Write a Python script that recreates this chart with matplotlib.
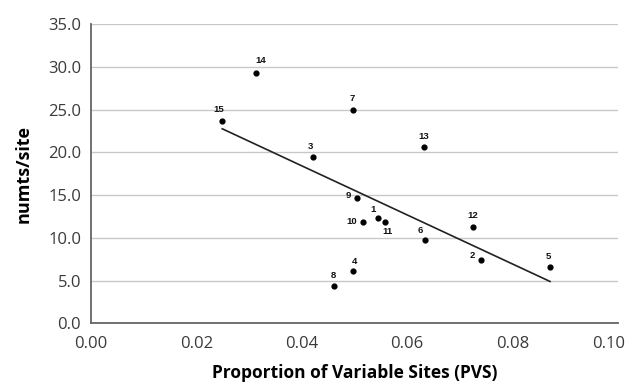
import numpy as np
import matplotlib
matplotlib.use("Agg")
import matplotlib.pyplot as plt
from matplotlib.transforms import ScaledTranslation

# data
ids = ["1", "2", "3", "4", "5", "6", "7", "8", "9", "10", "11", "12", "13", "14", "15"]
pvs = [0.0544, 0.0740, 0.0421, 0.0497, 0.0871, 0.0633, 0.0498, 0.0462, 0.0505,
       0.0516, 0.0558, 0.0725, 0.0631, 0.0314, 0.0249]
numts = [12.3, 7.4, 19.4, 6.1, 6.6, 9.7, 24.9, 4.4, 14.7, 11.9, 11.8, 11.3, 20.6, 29.3, 23.7]
x_ticks = [0.00, 0.02, 0.04, 0.06, 0.08, 0.10]
y_ticks = [0.0, 5.0, 10.0, 15.0, 20.0, 25.0, 30.0, 35.0]

# label offsets in pixels (style)
offsets = {"1": (-5, 9), "2": (-9, 5), "3": (-2, 11), "4": (2, 10), "5": (-2, 10),
           "6": (-4, 10), "7": (-1, 12), "8": (-1, 10), "9": (-9, 2), "10": (-11, 0),
           "11": (2, -9), "12": (0, 11), "13": (0, 11), "14": (4, 12), "15": (-3, 11)}

fig = plt.figure(figsize=(6.3, 3.86), dpi=100)
ax = fig.add_axes([0.1444, 0.1624, 0.8366, 0.7754])

ax.scatter(pvs, numts, s=12, color="black", zorder=3)

# linear trend line
x = np.array(pvs)
y = np.array(numts)
m, b = np.polyfit(x, y, 1)
xl = np.array([x.min(), x.max()])
ax.plot(xl, m * xl + b, color="#222222", lw=1.2, zorder=2)

for lab, xv, yv in zip(ids, pvs, numts):
    dx, dy = offsets[lab]
    ax.annotate(lab, (xv, yv), xytext=(dx, dy), textcoords="offset pixels",
                ha="center", va="center", fontsize=6.8, fontweight="bold",
                family="Liberation Sans", color="#111111")

ax.set_xlim(0, 0.10)
ax.set_ylim(0, 35)
ax.set_xticks(x_ticks)
ax.set_yticks(y_ticks)
ax.set_xticklabels([f"{v:.2f}" for v in x_ticks], family="Open Sans", fontsize=12, color="#3a3a3a")
ax.set_yticklabels([f"{v:.1f}" for v in y_ticks], family="Open Sans", fontsize=12, color="#3a3a3a")
ax.tick_params(axis="y", length=0, pad=7)
ax.tick_params(axis="x", length=0, pad=9)
ax.grid(axis="y", color="#c8c8c8", lw=1)
ax.set_axisbelow(True)
for s in ["top", "right"]:
    ax.spines[s].set_visible(False)
for s in ["left", "bottom"]:
    ax.spines[s].set_color("#666666")
    ax.spines[s].set_linewidth(1.3)

# keep the last x tick label inside the figure, as in the reference
last = ax.get_xticklabels()[-1]
last.set_transform(last.get_transform() + ScaledTranslation(-0.09, 0, fig.dpi_scale_trans))

ax.set_xlabel("Proportion of Variable Sites (PVS)", family="Open Sans", fontsize=12.5,
              fontweight="bold", labelpad=9)
ax.set_ylabel("numts/site", family="Open Sans", fontsize=13, fontweight="bold", labelpad=11)

fig.savefig("out.png", dpi=100)
